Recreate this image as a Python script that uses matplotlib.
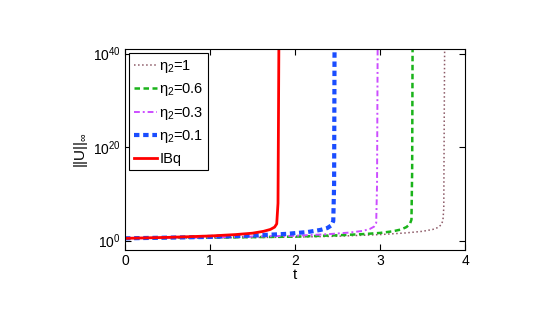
import numpy as np
import matplotlib
matplotlib.use('Agg')
import matplotlib.pyplot as plt

plt.rcParams['font.family'] = ['Liberation Sans', 'DejaVu Sans']
plt.rcParams['mathtext.fontset'] = 'custom'
plt.rcParams['mathtext.rm'] = 'Liberation Sans'
plt.rcParams['mathtext.it'] = 'Liberation Sans'

# points: t and log10 ||U||
t_eta1 = [0, 1.0, 2.0, 2.5, 3.0, 3.3, 3.5, 3.62, 3.68, 3.72, 3.74, 3.75, 3.755, 3.76]
lg_eta1 = [0.5, 0.6, 0.75, 0.95, 1.3, 1.65, 2.0, 2.4, 2.8, 3.4, 4.3, 7, 25, 41]
t_eta06 = [0, 1.0, 2.0, 2.5, 2.8, 3.0, 3.15, 3.25, 3.31, 3.35, 3.37, 3.378, 3.383]
lg_eta06 = [0.5, 0.65, 0.86, 1.15, 1.4, 1.65, 2.0, 2.4, 2.9, 3.5, 4.5, 15, 41]
t_eta03 = [0, 1.0, 2.0, 2.4, 2.65, 2.8, 2.88, 2.93, 2.955, 2.965, 2.972]
lg_eta03 = [0.5, 0.7, 1.05, 1.4, 1.75, 2.1, 2.5, 3.0, 3.8, 12, 41]
t_eta01 = [0, 1.0, 1.5, 1.9, 2.15, 2.3, 2.38, 2.43, 2.45, 2.46, 2.465]
lg_eta01 = [0.5, 0.8, 1.1, 1.45, 1.85, 2.3, 2.7, 3.3, 4.2, 12, 41]
t_ibq = [0, 0.5, 1.0, 1.3, 1.5, 1.63, 1.71, 1.76, 1.785, 1.8, 1.81]
lg_ibq = [0.5, 0.7, 1.0, 1.3, 1.6, 2.0, 2.4, 2.9, 3.6, 8, 41]

fig = plt.figure(figsize=(5.54, 3.30), dpi=100)
ax = fig.add_axes([0.2256, 0.2424, 0.6138, 0.6091])

ax.semilogy(t_eta1, 10.0**np.array(lg_eta1), ':', color=(0.55, 0.35, 0.4), lw=1.1, label=r'$\eta_2$=1')
ax.semilogy(t_eta06, 10.0**np.array(lg_eta06), '--', color=(0.1, 0.7, 0.1), lw=1.8, dashes=(2.2, 1.4), label=r'$\eta_2$=0.6')
ax.semilogy(t_eta03, 10.0**np.array(lg_eta03), '-.', color=(0.8, 0.3, 1.0), lw=1.4, dashes=(3, 1.5, 1, 1.5), label=r'$\eta_2$=0.3')
ax.semilogy(t_eta01, 10.0**np.array(lg_eta01), '--', color=(0.1, 0.3, 1.0), lw=3, dashes=(1.3, 0.9), label=r'$\eta_2$=0.1')
ax.semilogy(t_ibq, 10.0**np.array(lg_ibq), '-', color='red', lw=2, label='IBq')

ax.set_xlim(0, 4)
ax.set_ylim(1e-2, 1e41)
ax.set_xticks([0, 1, 2, 3, 4])
ax.set_yticks([1e0, 1e20, 1e40])
ax.yaxis.set_minor_locator(matplotlib.ticker.NullLocator())
ax.tick_params(direction='in', top=True, right=True, labelsize=10, length=4, pad=3)
ax.set_xlabel('t', fontsize=11, labelpad=0)
ax.set_ylabel(r'||U||$_\infty$', fontsize=11, labelpad=2)

leg = ax.legend(loc='upper left', fontsize=10.5, handlelength=1.6, handletextpad=0.15,
                borderaxespad=0.3, labelspacing=0.45, fancybox=False, framealpha=1,
                edgecolor='black', borderpad=0.3)
leg.get_frame().set_linewidth(0.8)

fig.savefig('out.png', dpi=100)
